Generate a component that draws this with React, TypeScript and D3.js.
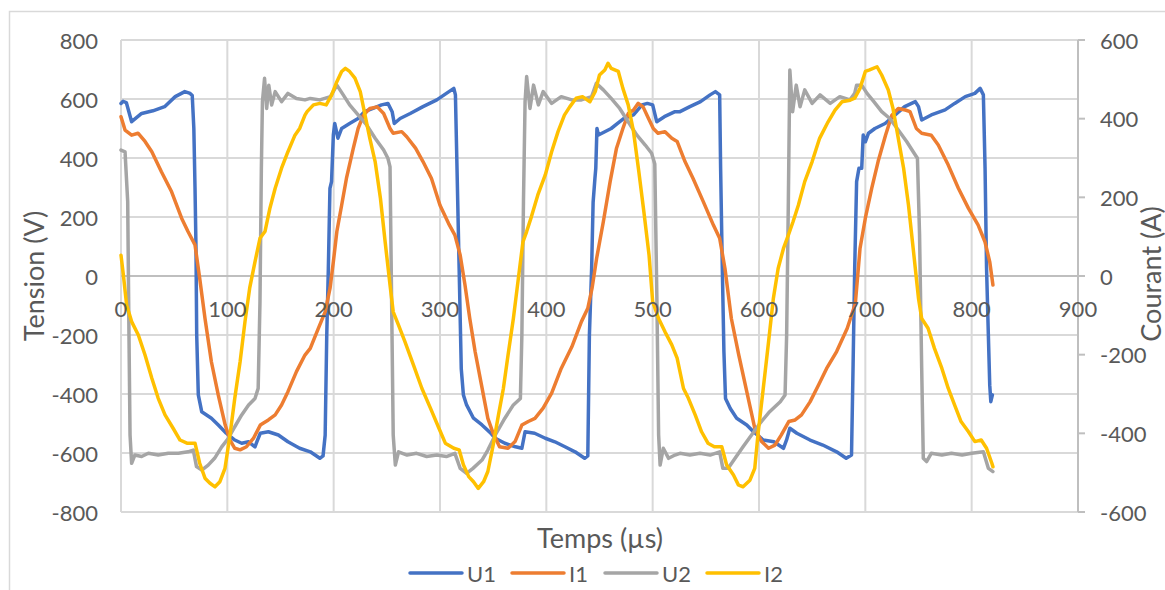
import React from "react";
import * as d3 from "d3";

// ---------- data ----------
const xTicks = [0, 100, 200, 300, 400, 500, 600, 700, 800, 900];
const leftTicks = [-800, -600, -400, -200, 0, 200, 400, 600, 800];
const rightTicks = [-600, -400, -200, 0, 200, 400, 600];
const seriesNames = ["U1", "I1", "U2", "I2"];

// [time µs, tension V]
const U1: [number, number][] = [
  [0, 585], [2, 592], [5, 588], [10, 523], [19.4, 551], [30, 560], [41, 574], [51, 608], [60, 625], [65, 619], [67, 612],
  [68.5, 500], [69.6, 300], [70.5, 100], [71.2, -200], [72.7, -403], [75.9, -460], [85, -482], [91.5, -505], [99, -533],
  [107, -556], [113.5, -567], [120, -562], [126, -579], [128, -560], [131, -533], [138.6, -528], [148, -539], [157, -562],
  [168, -584], [178, -596], [187, -618], [190, -610], [192, -540], [193.5, -200], [195, 26], [196.5, 297], [198, 320],
  [199.7, 478], [201, 517], [204, 467], [207.5, 500], [215, 517], [223, 534], [229, 557], [237, 568], [245, 580], [251, 585],
  [255, 557], [257, 517], [262.5, 534], [272, 551], [284, 574], [297, 597], [306, 619], [313, 636], [314.5, 614],
  [316, 365], [318, 26], [320, -315], [322, -403], [325, -437], [331.5, -482], [339.5, -505], [347, -530], [352, -550],
  [361, -567], [371, -579], [377, -584], [380, -528], [389, -533], [399, -550], [408, -562], [417.5, -579], [427, -596],
  [436, -618], [439, -610], [440.5, -200], [442.6, 26], [444, 250], [445.7, 331], [446.5, 365], [447.6, 500], [449, 478],
  [455, 489], [461, 500], [467, 517], [473, 534], [482, 546], [490, 580], [495, 585], [500, 580], [503.8, 523], [511, 540],
  [521, 557], [525.7, 557], [535, 574], [545, 591], [554, 614], [559, 625], [563, 614], [563.9, 365], [565.5, 26],
  [567, -256], [568.5, -415], [573, -449], [579, -482], [588.5, -505], [594.8, -528], [604, -556], [614, -562], [623, -584],
  [626, -555], [629, -516], [635.6, -533], [648, -556], [660, -573], [673, -596], [682, -618], [687, -607], [688.5, -300],
  [690, 26], [691.8, 320], [694, 365], [696.6, 365], [698, 478], [700, 455], [703, 484], [709, 500], [718.6, 517], [728, 546],
  [737, 574], [747, 591], [750, 574], [753, 529], [762, 546], [775, 563], [784, 585], [794, 608], [803, 619], [808, 636],
  [811, 614], [812.6, 365], [814, 26], [815.7, -200], [817, -370], [818, -426], [819.5, -403],
];

// [time µs, courant A]
const I1: [number, number][] = [
  [0, 405], [3.8, 371], [10, 358], [16, 363], [22.6, 342], [29, 316], [38, 265], [47.6, 214], [57, 147], [63, 113],
  [69.6, 79], [74, -6], [79, -108], [85, -218], [91.5, -303], [98, -379], [102.5, -417], [107, -438], [112, -442],
  [118, -434], [124.5, -413], [131, -379], [138.6, -366], [145, -353], [151, -328], [157, -294], [165, -243], [173, -201],
  [178, -184], [185.6, -133], [192, -91], [196.6, -31], [199.7, 36], [203, 113], [207.5, 180], [212, 248], [218.5, 325],
  [223, 375], [228, 409], [234, 426], [241, 430], [247, 413], [253, 375], [256, 363], [264, 367], [268.7, 354], [277, 325],
  [284, 291], [292, 248], [300, 180], [308, 134], [314, 104], [319, 53], [323.5, -23], [328, -108], [333, -192], [339, -277],
  [345, -362], [350, -400], [356, -434], [364, -438], [370.6, -421], [377, -379], [383, -370], [389.3, -362], [397, -336],
  [405, -298], [414, -235], [424, -180], [433, -116], [439, -82], [443, -31], [447.3, 45], [453.6, 138], [460, 240],
  [466, 325], [472, 375], [477, 413], [482, 422], [486.4, 439], [491, 430], [496, 401], [500.6, 375], [505, 363],
  [511.6, 367], [518, 350], [523, 342], [530.4, 291], [538, 248], [547.6, 189], [557, 130], [563, 96], [568, 19],
  [574, -108], [581, -201], [588.5, -294], [596, -387], [602.5, -421], [609, -438], [615, -430], [621, -404], [628, -370],
  [634, -366], [640, -353], [648, -320], [656, -277], [663.6, -235], [673, -192], [683, -133], [690.6, -70], [695, 70],
  [700, 147], [706, 223], [712, 291], [719, 358], [725, 409], [731, 426], [737.6, 422], [742, 418], [748, 375], [753, 363],
  [762, 358], [768.6, 333], [778, 282], [787.5, 223], [797, 172], [806, 130], [812.5, 87], [817, 36], [820, -23],
];

// [time µs, tension V]
const U2: [number, number][] = [
  [0, 427], [3.8, 421], [6.3, 252], [7.5, -200], [8.5, -539], [10, -635], [13, -607], [19.4, -612], [25.7, -601],
  [35, -607], [44.5, -601], [54, -601], [63, -596], [68, -590], [71, -646], [76, -658], [82, -641], [88, -618], [94.7, -579],
  [101, -550], [107, -511], [113.5, -471], [120, -437], [126, -415], [129, -381], [130.7, -87], [132, 365], [133, 591],
  [135, 670], [137, 568], [139, 647], [141.7, 580], [145, 625], [151, 591], [157, 619], [165, 602], [173, 597], [178, 602],
  [187, 597], [197, 608], [203, 647], [209, 614], [215, 580], [223, 546], [231, 512], [239, 467], [247, 427], [251, 399],
  [253, 370], [254.5, -87], [256, -539], [258, -641], [261, -596], [269, -607], [278, -601], [287.5, -612], [297, -607],
  [306, -612], [314, -601], [319, -652], [325, -669], [331, -652], [339.5, -624], [345, -590], [352, -539], [361, -482],
  [369, -437], [375.6, -415], [377, -200], [378.5, 252], [380, 591], [381.5, 676], [384.6, 568], [388, 647], [392.5, 580],
  [397, 625], [405, 585], [414, 608], [424, 597], [433, 597], [442.6, 608], [447, 653], [453.6, 631], [461, 602],
  [469, 568], [477, 523], [485, 478], [493, 444], [499, 416], [502, 380], [504, -87], [505.6, -539], [507, -641],
  [510, -584], [515, -618], [521, -607], [525.7, -601], [535, -607], [544.5, -601], [554, -607], [563, -596], [566, -652],
  [571, -652], [577.5, -618], [585, -579], [593, -539], [601, -499], [610, -460], [620, -426], [624.5, -403], [626, -200],
  [627.6, 252], [629, 698], [631.6, 557], [635, 647], [638.6, 574], [643, 631], [650, 585], [657.4, 614], [667, 585],
  [676, 608], [685.6, 597], [690, 619], [691.8, 647], [696.6, 647], [701.6, 619], [708, 591], [715.4, 557], [723, 534],
  [731, 495], [739, 455], [745, 421], [749, 399], [751, 139], [753, -313], [754.5, -618], [757.6, -629], [762, -601],
  [772, -607], [781, -601], [791, -607], [800, -601], [811, -596], [815.7, -652], [820, -663],
];

// [time µs, courant A]
const I2: [number, number][] = [
  [0, 53], [2.2, 3], [5.3, -74], [10, -116], [16.3, -150], [22.6, -201], [29, -260], [35, -311], [41.4, -353], [49, -387],
  [55.5, -417], [62, -425], [69.6, -425], [74, -476], [79, -514], [83.7, -527], [88.4, -536], [93, -523], [97.8, -489],
  [102.5, -404], [107, -311], [112, -218], [116.6, -116], [121, -31], [126, 36], [130.7, 96], [135.4, 113], [140, 172],
  [145, 223], [151, 274], [157, 316], [163.6, 358], [168, 375], [173, 409], [175, 418], [181, 435], [187, 439], [193, 435],
  [198, 460], [203, 494], [207.5, 520], [211, 528], [215, 520], [220, 503], [225, 469], [229.5, 409], [234, 350], [239, 291],
  [244, 197], [248.4, 87], [253, -23], [256, -91], [261, -125], [267, -167], [275, -226], [283, -286], [291, -336],
  [299, -387], [305, -425], [313, -438], [318, -442], [322, -480], [327, -510], [331.5, -523], [336, -540], [341, -523],
  [345, -497], [350, -430], [355, -353], [359.6, -286], [364, -201], [369, -108], [373.7, -6], [378, 87], [381.5, 113],
  [386, 151], [392, 206], [399, 257], [405, 316], [411, 367], [417, 409], [422, 430], [428, 452], [434, 456], [441, 443],
  [446, 469], [450, 511], [455, 524], [458, 541], [461, 528], [467.7, 520], [472, 477], [477, 435], [482, 367], [487, 265],
  [491.7, 164], [496.6, 53], [500, -65], [505.6, -108], [511.6, -142], [518, -175], [523, -209], [529, -286],
  [533.6, -311], [540, -353], [546, -396], [552, -425], [558, -434], [565, -434], [569.5, -480], [576, -506],
  [580.6, -531], [585, -536], [591.5, -519], [596, -489], [599, -404], [604, -286], [609, -167], [613.5, -57], [618, 19],
  [623, 70], [627.6, 104], [632, 138], [637, 180], [643, 240], [650, 291], [657, 350], [665, 392], [671.5, 422], [678, 443],
  [685.6, 447], [690, 452], [695, 477], [700, 520], [704, 524], [711, 532], [715.4, 511], [721.6, 473], [726, 426],
  [731, 350], [736, 274], [740.6, 180], [745, 70], [750, -57], [753, -108], [759, -133], [765, -184], [772, -235],
  [778, -286], [784, -328], [790, -370], [797, -396], [803, -421], [809, -417], [814, -438], [819, -476], [820, -485],
];

const seriesData = [U1, I1, U2, I2];
const seriesColors = ["#4472C4", "#ED7D31", "#A5A5A5", "#FFC000"];
const seriesAxis = ["left", "right", "left", "right"];

// ---------- layout ----------
const W = 1165;
const H = 590;
const PL = 121;
const PR = 1078;
const PT = 40;
const PB = 512;
const FONT = "Lato, 'Open Sans', sans-serif";
const TXT = "#595959";
const GRID = "#D9D9D9";
const TICK_FS = 22;
const TITLE_FS = 27;

export default function App() {
  const x = d3.scaleLinear().domain([0, 900]).range([PL, PR]);
  const yL = d3.scaleLinear().domain([-800, 800]).range([PB, PT]);
  const yR = d3.scaleLinear().domain([-600, 600]).range([PB, PT]);

  const legendItems = [
    { lx: 410, tx: 467 },
    { lx: 512, tx: 569 },
    { lx: 605, tx: 662 },
    { lx: 707, tx: 764 },
  ];

  return (
    <svg
      width={W}
      height={H}
      style={{ position: "absolute", left: 0, top: 0, display: "block", background: "#fff" }}
    >
      <rect x={9.5} y={11.5} width={1300} height={700} fill="#fff" stroke={GRID} strokeWidth={1.5} />

      {leftTicks.map((t) => (
        <line key={"h" + t} x1={PL} x2={PR} y1={yL(t)} y2={yL(t)} stroke={GRID} strokeWidth={2} />
      ))}
      {xTicks.map((t) => (
        <line key={"v" + t} x1={x(t)} x2={x(t)} y1={PT} y2={PB} stroke={GRID} strokeWidth={2} />
      ))}
      <line x1={PL} x2={PR} y1={yL(0)} y2={yL(0)} stroke="#BFBFBF" strokeWidth={2} />
      <line x1={PR} x2={PR} y1={PT} y2={PB} stroke="#BFBFBF" strokeWidth={2} />
      {rightTicks.map((t) => (
        <line key={"rt" + t} x1={PR} x2={PR + 7} y1={yR(t)} y2={yR(t)} stroke="#BFBFBF" strokeWidth={2} />
      ))}

      {seriesData.map((d, i) => {
        const ys = seriesAxis[i] === "left" ? yL : yR;
        const line = d3
          .line<[number, number]>()
          .x((p) => x(p[0]))
          .y((p) => ys(p[1]));
        return (
          <path
            key={seriesNames[i]}
            d={line(d) || ""}
            fill="none"
            stroke={seriesColors[i]}
            strokeWidth={3.5}
            strokeLinejoin="round"
            strokeLinecap="round"
          />
        );
      })}

      {leftTicks.map((t) => (
        <text key={"lt" + t} x={98} y={yL(t)} textAnchor="end" dominantBaseline="central"
          fontFamily={FONT} fontSize={TICK_FS} fill={TXT}>{t}</text>
      ))}
      {rightTicks.map((t) => (
        <text key={"rl" + t} x={1100} y={yR(t)} textAnchor="start" dominantBaseline="central"
          fontFamily={FONT} fontSize={TICK_FS} fill={TXT}>{t}</text>
      ))}
      {xTicks.map((t) => (
        <text key={"xt" + t} x={x(t)} y={308} textAnchor="middle" dominantBaseline="central"
          fontFamily={FONT} fontSize={TICK_FS} fill={TXT}>{t}</text>
      ))}

      <text transform="translate(33,276) rotate(-90)" textAnchor="middle" dominantBaseline="central"
        fontFamily={FONT} fontSize={TITLE_FS} fill={TXT}>Tension (V)</text>
      <text transform="translate(1150,274) rotate(-90)" textAnchor="middle" dominantBaseline="central"
        fontFamily={FONT} fontSize={TITLE_FS} fill={TXT}>Courant (A)</text>
      <text x={600} y={537} textAnchor="middle" dominantBaseline="central"
        fontFamily={FONT} fontSize={TITLE_FS} fill={TXT}>Temps (µs)</text>

      {seriesNames.map((n, i) => (
        <g key={"lg" + n}>
          <line x1={legendItems[i].lx} x2={legendItems[i].lx + 52} y1={573} y2={573}
            stroke={seriesColors[i]} strokeWidth={3.5} strokeLinecap="round" />
          <text x={legendItems[i].tx} y={573} dominantBaseline="central"
            fontFamily={FONT} fontSize={TICK_FS} fill={TXT}>{n}</text>
        </g>
      ))}
    </svg>
  );
}
